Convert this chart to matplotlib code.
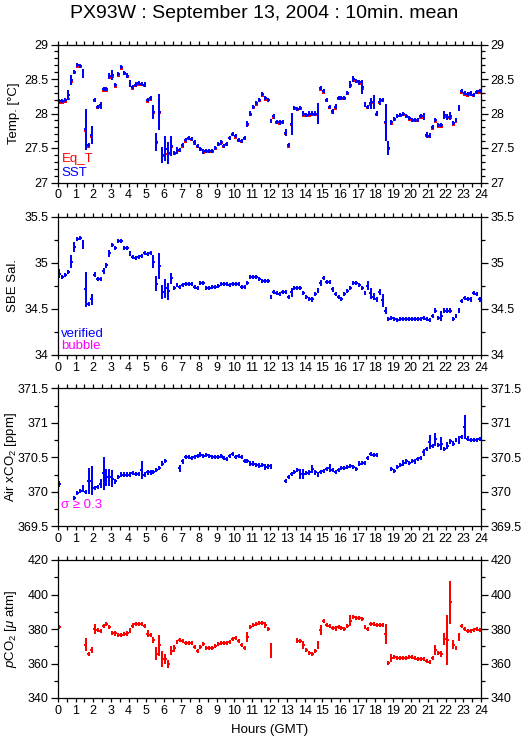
import numpy as np
import matplotlib
matplotlib.use("Agg")
import matplotlib.pyplot as plt
from matplotlib.ticker import MultipleLocator, FuncFormatter

plt.rcParams['font.family'] = ['Liberation Sans', 'DejaVu Sans']
plt.rcParams['mathtext.fontset'] = 'custom'
plt.rcParams['mathtext.rm'] = 'Liberation Sans'
plt.rcParams['mathtext.it'] = 'Liberation Sans:italic'

nan = np.nan

# 10-minute means, 144 bins over the day (GMT hours, bin centres)
hours = (np.arange(144) + 0.5) / 6.0

sst = [
    28.18, 28.18, 28.20, 28.27, 28.49, 28.60, 28.70, 28.69, 28.58, 27.77, 27.54, 27.69,
    28.19, 28.10, 28.12, 28.36, 28.36, 28.54, 28.56, 28.41, 28.57, 28.67, 28.59, 28.55,
    28.44, 28.39, 28.42, 28.44, 28.43, 28.42, 28.19, 28.22, 28.02, 27.59, 28.02, 27.40,
    27.49, 27.43, 27.53, 27.43, 27.47, 27.47, 27.54, 27.61, 27.64, 27.63, 27.58, 27.53,
    27.49, 27.45, 27.46, 27.46, 27.46, 27.50, 27.56, 27.58, 27.53, 27.56, 27.65, 27.70,
    27.67, 27.62, 27.60, 27.65, 27.85, 28.00, 28.10, 28.15, 28.20, 28.28, 28.22, 28.20,
    27.89, 27.96, 27.88, 27.87, 27.88, 27.72, 27.54, 27.85, 28.08, 28.07, 28.08, 28.00,
    27.98, 28.00, 28.00, 28.00, 28.00, 28.37, 28.32, 28.20, 28.10, 28.03, 28.10, 28.23,
    28.23, 28.23, 28.30, 28.42, 28.50, 28.47, 28.45, 28.38, 28.13, 28.10, 28.15, 28.17,
    28.00, 28.17, 28.20, 27.87, 27.50, 27.87, 27.92, 27.97, 27.98, 27.99, 27.97, 27.93,
    27.91, 27.91, 27.91, 27.96, 27.96, 27.69, 27.68, 27.80, 27.90, 27.83, 27.83, 27.98,
    27.95, 27.96, 27.86, 27.90, 28.08, 28.32, 28.30, 28.28, 28.29, 28.27, 28.31, 28.32,
]
sst_sd = [
    0.01, 0.01, 0.02, 0.07, 0.07, 0.03, 0.01, 0.01, 0.06, 0.30, 0.01, 0.13,
    0.02, 0.01, 0.05, 0.02, 0.02, 0.04, 0.07, 0.02, 0.01, 0.01, 0.01, 0.01,
    0.05, 0.01, 0.01, 0.01, 0.02, 0.02, 0.02, 0.03, 0.10, 0.13, 0.26, 0.12,
    0.18, 0.16, 0.15, 0.01, 0.05, 0.01, 0.02, 0.03, 0.01, 0.01, 0.01, 0.01,
    0.01, 0.01, 0.01, 0.01, 0.01, 0.02, 0.02, 0.02, 0.02, 0.02, 0.02, 0.01,
    0.01, 0.02, 0.01, 0.03, 0.04, 0.02, 0.02, 0.02, 0.02, 0.02, 0.02, 0.02,
    0.02, 0.04, 0.02, 0.02, 0.02, 0.05, 0.02, 0.16, 0.02, 0.01, 0.02, 0.03,
    0.02, 0.03, 0.03, 0.04, 0.15, 0.02, 0.03, 0.01, 0.03, 0.02, 0.04, 0.02,
    0.02, 0.01, 0.02, 0.05, 0.04, 0.01, 0.01, 0.10, 0.02, 0.02, 0.08, 0.10,
    0.04, 0.05, 0.02, 0.27, 0.10, 0.03, 0.01, 0.01, 0.01, 0.01, 0.01, 0.01,
    0.01, 0.01, 0.01, 0.01, 0.05, 0.04, 0.04, 0.03, 0.03, 0.01, 0.01, 0.06,
    0.05, 0.06, 0.02, 0.02, 0.05, 0.03, 0.02, 0.01, 0.01, 0.01, 0.01, 0.01,
]
eq_t = [
    28.15, 28.15, 28.17, 28.21, 28.46, 28.59, 28.68, 28.67, 28.57, 27.75, 27.52, 27.66,
    28.18, 28.08, 28.10, 28.33, 28.33, 28.52, 28.53, 28.39, 28.55, 28.65, 28.57, 28.53,
    28.42, 28.36, 28.40, 28.42, 28.41, 28.40, 28.17, 28.19, 28.01, 27.57, 28.01, 27.38,
    27.42, 27.41, 27.52, 27.41, 27.45, 27.45, 27.52, 27.59, 27.63, 27.61, 27.56, 27.51,
    27.47, 27.43, 27.44, 27.44, 27.44, 27.48, 27.54, 27.57, 27.51, 27.54, 27.64, 27.69,
    27.65, 27.60, 27.58, 27.63, 27.83, 27.98, 28.08, 28.13, 28.18, 28.26, 28.20, 28.19,
    27.87, 27.94, 27.86, 27.85, 27.86, 27.70, 27.52, 27.84, 28.06, 28.05, 28.06, 27.97,
    27.96, 27.97, 27.98, 27.98, 27.98, 28.34, 28.30, 28.18, 28.08, 28.01, 28.07, 28.21,
    28.21, 28.21, 28.28, 28.40, 28.47, 28.45, 28.43, 28.36, 28.11, 28.08, 28.13, 28.15,
    27.98, 28.15, 28.18, 27.86, 27.49, 27.85, 27.90, 27.96, 27.97, 27.98, 27.95, 27.90,
    27.89, 27.89, 27.89, 27.94, 27.94, 27.67, 27.66, 27.78, 27.88, 27.81, 27.81, 27.95,
    27.93, 27.94, 27.84, 27.87, 28.06, 28.30, 28.27, 28.26, 28.27, 28.25, 28.29, 28.30,
]

sal = [
    34.88, 34.84, 34.87, 34.90, 35.01, 35.17, 35.26, 35.27, 35.20, 34.71, 34.55, 34.60,
    34.87, 34.82, 34.82, 34.91, 34.97, 35.10, 35.19, 35.16, 35.24, 35.24, 35.16, 35.16,
    35.10, 35.06, 35.05, 35.06, 35.07, 35.11, 35.09, 35.11, 35.01, 34.77, 34.96, 34.68,
    34.72, 34.69, 34.83, 34.72, 34.76, 34.74, 34.76, 34.77, 34.77, 34.77, 34.74, 34.73,
    34.78, 34.78, 34.73, 34.73, 34.74, 34.74, 34.75, 34.77, 34.77, 34.77, 34.76, 34.77,
    34.77, 34.77, 34.74, 34.74, 34.78, 34.84, 34.84, 34.84, 34.82, 34.80, 34.80, 34.80,
    34.63, 34.68, 34.67, 34.66, 34.68, 34.68, 34.63, 34.68, 34.73, 34.73, 34.72, 34.67,
    34.63, 34.61, 34.60, 34.66, 34.70, 34.78, 34.83, 34.79, 34.79, 34.71, 34.66, 34.63,
    34.61, 34.66, 34.69, 34.72, 34.78, 34.78, 34.76, 34.72, 34.67, 34.75, 34.67, 34.63,
    34.60, 34.68, 34.59, 34.48, 34.39, 34.40, 34.39, 34.38, 34.39, 34.39, 34.39, 34.39,
    34.39, 34.39, 34.39, 34.39, 34.40, 34.39, 34.38, 34.42, 34.48, 34.40, 34.42, 34.48,
    34.48, 34.48, 34.39, 34.42, 34.48, 34.58, 34.62, 34.61, 34.60, 34.67, 34.66, 34.60,
]
sal_sd = [
    0.05, 0.01, 0.01, 0.01, 0.07, 0.05, 0.01, 0.01, 0.05, 0.19, 0.01, 0.06,
    0.03, 0.01, 0.01, 0.03, 0.03, 0.04, 0.01, 0.01, 0.01, 0.01, 0.01, 0.01,
    0.01, 0.01, 0.01, 0.01, 0.01, 0.02, 0.01, 0.01, 0.07, 0.08, 0.14, 0.08,
    0.10, 0.09, 0.06, 0.01, 0.01, 0.01, 0.01, 0.01, 0.01, 0.01, 0.01, 0.01,
    0.01, 0.01, 0.01, 0.01, 0.01, 0.01, 0.01, 0.01, 0.01, 0.01, 0.01, 0.01,
    0.01, 0.01, 0.01, 0.01, 0.02, 0.01, 0.01, 0.01, 0.01, 0.01, 0.01, 0.01,
    0.01, 0.01, 0.01, 0.01, 0.01, 0.01, 0.01, 0.05, 0.01, 0.01, 0.01, 0.01,
    0.01, 0.01, 0.01, 0.01, 0.03, 0.03, 0.01, 0.01, 0.01, 0.03, 0.01, 0.01,
    0.01, 0.01, 0.01, 0.01, 0.01, 0.01, 0.01, 0.01, 0.01, 0.05, 0.06, 0.04,
    0.01, 0.03, 0.07, 0.04, 0.01, 0.01, 0.01, 0.01, 0.01, 0.01, 0.01, 0.01,
    0.01, 0.01, 0.01, 0.01, 0.01, 0.01, 0.01, 0.01, 0.03, 0.01, 0.05, 0.03,
    0.03, 0.03, 0.01, 0.01, 0.03, 0.01, 0.01, 0.01, 0.01, 0.01, 0.01, 0.01,
]

xco2 = [
    370.11, nan, nan, nan, nan, 369.91, 369.98, 370.01, 370.05, 370.00, 370.16, 370.16,
    370.05, 370.07, 370.12, 370.27, 370.21, 370.21, 370.19, 370.15, 370.21, 370.25, 370.25, 370.25,
    370.25, 370.27, 370.26, 370.26, 370.31, 370.25, 370.28, 370.28, 370.29, 370.31, 370.34, 370.41,
    370.45, nan, nan, nan, nan, 370.34, 370.44, 370.50, 370.50, 370.49, 370.50, 370.52,
    370.54, 370.52, 370.53, 370.52, 370.51, 370.50, 370.50, 370.52, 370.49, 370.47, 370.52, 370.55,
    370.50, 370.52, 370.50, 370.45, 370.45, 370.41, 370.41, 370.39, 370.38, 370.39, 370.36, 370.37,
    370.37, nan, nan, nan, nan, 370.16, 370.21, 370.26, 370.29, 370.32, 370.26, 370.26,
    370.27, 370.28, 370.33, 370.28, 370.25, 370.29, 370.30, 370.33, 370.34, 370.31, 370.29, 370.31,
    370.34, 370.34, 370.36, 370.38, 370.36, 370.33, 370.41, 370.42, 370.42, 370.49, 370.55, 370.53,
    370.53, nan, nan, nan, nan, 370.33, 370.30, 370.36, 370.39, 370.42, 370.44, 370.42,
    370.45, 370.44, 370.47, 370.49, 370.57, 370.62, 370.72, 370.67, 370.76, 370.68, 370.70, 370.62,
    370.67, 370.73, 370.70, 370.75, 370.75, 370.79, 370.94, 370.77, 370.75, 370.75, 370.75, 370.77,
]
xco2_sd = [
    0.04, 0, 0, 0, 0, 0.03, 0.02, 0.02, 0.05, 0.03, 0.19, 0.21,
    0.03, 0.02, 0.07, 0.24, 0.12, 0.12, 0.12, 0.03, 0.02, 0.02, 0.02, 0.02,
    0.02, 0.02, 0.02, 0.02, 0.13, 0.03, 0.02, 0.02, 0.02, 0.02, 0.02, 0.04,
    0.03, 0, 0, 0, 0, 0.05, 0.03, 0.02, 0.02, 0.02, 0.02, 0.02,
    0.02, 0.02, 0.02, 0.02, 0.02, 0.02, 0.02, 0.02, 0.02, 0.02, 0.02, 0.02,
    0.02, 0.02, 0.02, 0.03, 0.02, 0.03, 0.02, 0.03, 0.04, 0.02, 0.04, 0.04,
    0.04, 0, 0, 0, 0, 0.02, 0.02, 0.02, 0.02, 0.02, 0.07, 0.07,
    0.02, 0.02, 0.06, 0.02, 0.02, 0.02, 0.02, 0.02, 0.06, 0.02, 0.02, 0.02,
    0.02, 0.02, 0.02, 0.02, 0.02, 0.02, 0.02, 0.02, 0.02, 0.02, 0.02, 0.02,
    0.02, 0, 0, 0, 0, 0.02, 0.02, 0.02, 0.03, 0.04, 0.04, 0.02,
    0.02, 0.02, 0.02, 0.02, 0.05, 0.03, 0.10, 0.03, 0.09, 0.03, 0.09, 0.02,
    0.05, 0.04, 0.04, 0.03, 0.06, 0.03, 0.18, 0.04, 0.02, 0.02, 0.02, 0.02,
]

pco2 = [
    381.1, nan, nan, nan, nan, nan, nan, nan, nan, 370.9, 365.7, 367.6,
    379.9, 379.5, 379.0, 381.7, 382.8, 381.3, 377.6, 377.4, 376.6, 376.6, 377.0, 377.4,
    379.3, 382.0, 382.8, 382.8, 382.8, 381.7, 377.2, 376.5, 373.4, 365.7, 370.5, 362.6,
    362.6, 359.9, 367.4, 368.9, 372.4, 373.4, 372.8, 371.8, 371.8, 371.8, 369.7, 367.4,
    369.7, 371.3, 368.9, 368.9, 368.9, 370.3, 371.3, 372.0, 372.0, 372.0, 372.4, 374.1,
    374.7, 373.2, 370.9, 369.1, 375.3, 381.3, 382.4, 383.0, 383.6, 383.4, 382.4, 380.1,
    367.4, nan, nan, nan, nan, nan, nan, nan, nan, 373.3, 373.2, 370.9,
    368.0, 365.9, 365.5, 367.4, 370.9, 379.5, 384.7, 382.2, 381.8, 380.7, 380.3, 381.1,
    380.7, 380.1, 381.8, 384.7, 387.2, 386.5, 386.3, 385.7, 381.3, 380.1, 382.8, 382.8,
    382.4, 382.4, 382.4, 377.0, 360.3, 363.2, 363.7, 363.4, 363.4, 363.4, 363.4, 363.7,
    363.7, 363.2, 362.6, 362.6, 362.6, 361.6, 360.8, 363.2, 368.0, 365.9, 365.5, 374.1,
    373.8, 395.5, 370.9, 368.9, 375.1, 381.5, 380.1, 379.0, 378.6, 379.3, 380.1, 379.3,
]
pco2_sd = [
    0.5, 0, 0, 0, 0, 0, 0, 0, 0, 3.8, 0.5, 1.8,
    2.8, 0.5, 0.5, 0.8, 0.8, 0.5, 0.5, 0.5, 0.5, 0.5, 0.5, 0.5,
    1.5, 0.5, 0.5, 0.5, 0.5, 0.5, 2.0, 0.5, 1.7, 3.9, 6.2, 4.6,
    3.1, 2.4, 2.7, 2.0, 1.0, 0.5, 0.5, 0.5, 0.5, 0.5, 0.8, 0.5,
    0.5, 0.8, 0.5, 0.5, 0.5, 0.5, 0.5, 0.5, 0.5, 0.5, 0.5, 0.5,
    0.5, 0.5, 0.5, 0.5, 2.8, 0.8, 0.5, 0.5, 0.5, 0.5, 1.9, 0.5,
    4.3, 0, 0, 0, 0, 0, 0, 0, 0, 0.5, 0.5, 2.3,
    0.5, 0.5, 0.5, 0.5, 2.3, 2.9, 1.0, 0.5, 0.5, 0.5, 0.5, 0.5,
    0.5, 0.5, 0.5, 3.2, 0.5, 0.5, 0.5, 1.0, 1.0, 0.5, 0.5, 0.5,
    0.5, 0.5, 0.5, 5.8, 1.0, 2.3, 0.5, 0.5, 0.5, 0.5, 0.5, 0.5,
    0.5, 0.5, 0.5, 0.5, 0.5, 0.5, 0.5, 0.5, 2.9, 0.5, 1.9, 3.5,
    14.6, 12.5, 2.7, 0.5, 2.3, 1.0, 0.5, 0.5, 0.5, 0.5, 0.5, 0.5,
]

BLUE = '#0000ff'
RED = '#ff0000'
MAGENTA = '#ff00ff'
HALF_BIN = 1.0 / 12.0   # 5 minutes


def draw_means(ax, y, sd, color, min_tick):
    # horizontal bar = 10 min averaging window, vertical bar = std dev
    y = np.asarray(y, dtype=float)
    sd = np.maximum(np.asarray(sd, dtype=float), min_tick)
    eb = ax.errorbar(hours, y, xerr=HALF_BIN, yerr=sd, fmt='none',
                     ecolor=color, elinewidth=1.1, capsize=0)
    for lc in eb.lines[2]:
        lc.set_antialiased(False)


def style(ax, ylim, major, minor, ylabel, label_x):
    ax.set_xlim(0, 24)
    ax.set_ylim(*ylim)
    ax.xaxis.set_major_locator(MultipleLocator(1))
    ax.xaxis.set_minor_locator(MultipleLocator(0.5))
    ax.yaxis.set_major_locator(MultipleLocator(major))
    ax.yaxis.set_minor_locator(MultipleLocator(minor))
    ax.yaxis.set_major_formatter(FuncFormatter(lambda v, p: '%g' % v))
    ax.tick_params(which='both', direction='out', top=True, right=True,
                   labelright=True, labelsize=9, width=0.9, pad=2)
    ax.tick_params(axis='x', which='both', length=3)
    ax.tick_params(axis='y', which='major', length=5)
    ax.tick_params(axis='y', which='minor', length=3)
    for s in ax.spines.values():
        s.set_linewidth(0.9)
    ax.set_ylabel(ylabel, fontsize=9.5)
    ax.yaxis.set_label_coords(label_x, 0.5)


fig = plt.figure(figsize=(5.29, 7.39), dpi=100)
W, H = 529.0, 739.0
left, right = 58, 481
tops = [44.5, 216.7, 388.3, 560.0]
height = 138.0
axes = [fig.add_axes([left / W, 1 - (t + height) / H, (right - left) / W, height / H])
        for t in tops]

ax1, ax2, ax3, ax4 = axes

draw_means(ax1, eq_t, np.zeros(144), RED, 0.012)
draw_means(ax1, sst, sst_sd, BLUE, 0.03)
style(ax1, (27, 29), 0.5, 0.1, 'Temp. [°C]', -0.09)
ax1.text(0.008, 0.145, 'Eq_T', color=RED, fontsize=9.5, transform=ax1.transAxes)
ax1.text(0.008, 0.045, 'SST', color=BLUE, fontsize=9.5, transform=ax1.transAxes)

draw_means(ax2, sal, sal_sd, BLUE, 0.022)
style(ax2, (34, 35.5), 0.5, 0.25, 'SBE Sal.', -0.093)
ax2.text(0.008, 0.13, 'verified', color=BLUE, fontsize=9.5, transform=ax2.transAxes)
ax2.text(0.008, 0.04, 'bubble', color=MAGENTA, fontsize=9.5, transform=ax2.transAxes)

draw_means(ax3, xco2, xco2_sd, BLUE, 0.03)
style(ax3, (369.5, 371.5), 0.5, 0.25, 'Air xCO$_2$ [ppm]', -0.092)
ax3.text(0.008, 0.13, 'σ ≥ 0.3', color=MAGENTA, fontsize=9.5, transform=ax3.transAxes)

draw_means(ax4, pco2, pco2_sd, RED, 1.2)
style(ax4, (340, 420), 20, 10, '$p$CO$_2$ [$\\mu$ atm]', -0.093)
ax4.set_xlabel('Hours (GMT)', fontsize=9.5, labelpad=5)

fig.text(0.5, 1 - 13 / H, 'PX93W : September 13, 2004 : 10min. mean',
         ha='center', va='center', fontsize=14)

fig.savefig('out.png', dpi=100)
